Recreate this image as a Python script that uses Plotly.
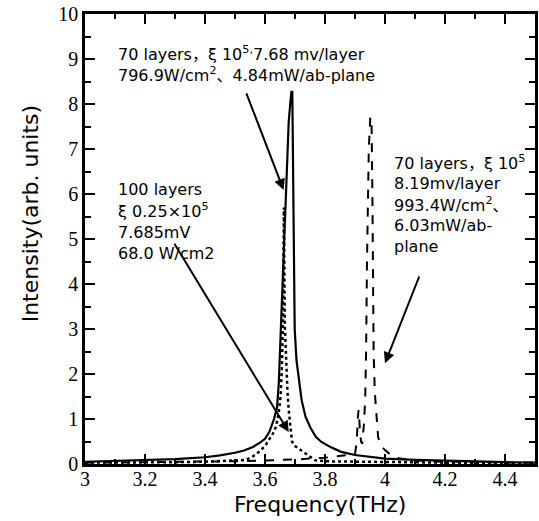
import plotly.graph_objects as go

# ---- data ----
solid_x = [3.0, 3.1, 3.2, 3.3, 3.4, 3.45, 3.5, 3.53, 3.56, 3.58, 3.6, 3.615, 3.63, 3.64, 3.646,
           3.652, 3.656, 3.662, 3.668, 3.674, 3.679, 3.684, 3.688, 3.691, 3.694, 3.696, 3.699,
           3.705, 3.713, 3.722, 3.735, 3.752, 3.77, 3.788, 3.82, 3.854, 3.9, 3.944, 4.0, 4.1,
           4.2, 4.3, 4.4, 4.5]
solid_y = [0.05, 0.07, 0.09, 0.11, 0.15, 0.19, 0.25, 0.3, 0.38, 0.46, 0.56, 0.72, 1.0, 1.25, 1.8,
           2.9, 3.8, 4.8, 6.0, 6.9, 7.6, 8.0, 8.27, 8.27, 6.5, 5.0, 3.0,
           2.3, 1.85, 1.42, 1.05, 0.8, 0.6, 0.49, 0.37, 0.27, 0.2, 0.16, 0.12, 0.09,
           0.07, 0.05, 0.04, 0.03]

dot_x = [3.0, 3.1, 3.2, 3.3, 3.4, 3.45, 3.5, 3.536, 3.56, 3.58, 3.6, 3.613, 3.625, 3.636, 3.645,
         3.652, 3.656, 3.66, 3.663, 3.666, 3.67, 3.675, 3.679, 3.685, 3.69, 3.7, 3.72, 3.735,
         3.75, 3.768, 3.8, 3.9, 4.0, 4.2, 4.5]
dot_y = [0.03, 0.03, 0.04, 0.04, 0.05, 0.06, 0.07, 0.09, 0.17, 0.27, 0.4, 0.53, 0.66, 0.82, 1.1,
         1.5, 2.1, 3.1, 5.7, 3.1, 2.2, 1.6, 1.2, 0.75, 0.5, 0.4, 0.3, 0.24,
         0.15, 0.08, 0.06, 0.05, 0.04, 0.03, 0.02]

dash_x = [3.0, 3.1, 3.2, 3.3, 3.4, 3.5, 3.6, 3.7, 3.8, 3.85, 3.88, 3.9, 3.906, 3.909, 3.912,
          3.916, 3.92, 3.924, 3.93, 3.934, 3.937, 3.94, 3.946, 3.951, 3.955, 3.958, 3.96,
          3.962, 3.966, 3.972, 3.977, 3.988, 4.0, 4.02, 4.05, 4.1, 4.2, 4.3, 4.4, 4.5]
dash_y = [0.03, 0.03, 0.04, 0.05, 0.05, 0.06, 0.08, 0.1, 0.14, 0.17, 0.2, 0.22, 0.5, 1.0, 1.2,
          0.8, 0.5, 0.45, 0.9, 1.45, 2.5, 4.5, 7.0, 7.7, 7.7, 6.0, 4.5,
          2.5, 1.6, 1.0, 0.6, 0.4, 0.31, 0.2, 0.12, 0.08, 0.05, 0.04, 0.04, 0.03]

x_ticks = [3, 3.2, 3.4, 3.6, 3.8, 4, 4.2, 4.4]
y_ticks = [0, 1, 2, 3, 4, 5, 6, 7, 8, 9, 10]

top_lines = ["70 layers，ξ 10<sup>5,</sup>7.68 mv/layer",
             "796.9W/cm<sup>2</sup>、4.84mW/ab-plane"]
left_lines = ["100 layers", "ξ 0.25×10<sup>5</sup>", "7.685mV", "68.0 W/cm2"]
right_lines = ["70 layers，ξ 10<sup>5</sup>", "8.19mv/layer", "993.4W/cm<sup>2</sup>、",
               "6.03mW/ab-", "plane"]

# ---- figure ----
fig = go.Figure()
fig.add_trace(go.Scatter(x=solid_x, y=solid_y, mode="lines",
                         line=dict(color="black", width=2.2)))
fig.add_trace(go.Scatter(x=dot_x, y=dot_y, mode="lines",
                         line=dict(color="black", width=2.5, dash="dot")))
fig.add_trace(go.Scatter(x=dash_x, y=dash_y, mode="lines",
                         line=dict(color="black", width=2, dash="dash")))

TXT = dict(family="DejaVu Sans, Noto Sans CJK JP", size=16, color="black")

# pixel -> data helpers for placing the text labels
def dx(px):
    return 3 + (px - 85) / 302.0

def dy(py):
    return (464 - py) / 45.0

anns = []
for i, t in enumerate(top_lines):
    anns.append(dict(x=dx(116), y=dy(53 + 21 * i), xref="x", yref="y", text=t,
                     showarrow=False, xanchor="left", yanchor="middle", font=TXT))
for i, t in enumerate(left_lines):
    anns.append(dict(x=dx(116), y=dy(189 + 21.5 * i), xref="x", yref="y", text=t,
                     showarrow=False, xanchor="left", yanchor="middle", font=TXT))
for i, t in enumerate(right_lines):
    anns.append(dict(x=dx(394), y=dy(162 + 21 * i), xref="x", yref="y", text=t,
                     showarrow=False, xanchor="left", yanchor="middle", font=TXT))

# arrows (head, tail)
arrows = [((3.662, 6.09), (3.536, 8.27)),
          ((3.679, 0.71), (3.295, 4.93)),
          ((4.0, 2.24), (4.116, 4.2))]
for (hx, hy), (tx, ty) in arrows:
    anns.append(dict(x=hx, y=hy, ax=tx, ay=ty, xref="x", yref="y", axref="x", ayref="y",
                     text="", showarrow=True, arrowhead=2, arrowsize=1.1, arrowwidth=2,
                     arrowcolor="black"))

# axis titles
anns.append(dict(x=-0.121, y=0.556, xref="paper", yref="paper", text="Intensity(arb. units)",
                 textangle=-90, showarrow=False, xanchor="center", yanchor="middle",
                 font=dict(family="DejaVu Sans", size=22, color="black")))
anns.append(dict(x=0.523, y=-0.09, xref="paper", yref="paper", text="Frequency(THz)",
                 showarrow=False, xanchor="center", yanchor="middle",
                 font=dict(family="DejaVu Sans", size=22, color="black")))

axis_common = dict(showline=True, linecolor="black", linewidth=2.5, mirror="allticks",
                   ticks="inside", tickcolor="black", tickwidth=2, ticklen=10,
                   showgrid=False, zeroline=False,
                   tickfont=dict(family="Liberation Serif", size=20, color="black"))

fig.update_layout(
    width=539, height=521,
    margin=dict(l=85, r=1, t=14, b=57),
    paper_bgcolor="white", plot_bgcolor="white",
    showlegend=False,
    annotations=anns,
    xaxis=dict(range=[3, 4.5], tickvals=x_ticks, ticktext=[str(v) for v in x_ticks],
               ticklabelstandoff=-5,
               minor=dict(dtick=0.1, tick0=3, ticks="inside", ticklen=5, tickwidth=2,
                          tickcolor="black"),
               **axis_common),
    yaxis=dict(range=[0, 10], tickvals=y_ticks,
               minor=dict(dtick=0.5, tick0=0, ticks="inside", ticklen=6, tickwidth=2,
                          tickcolor="black"),
               **axis_common),
)

fig.write_html("out.html")
